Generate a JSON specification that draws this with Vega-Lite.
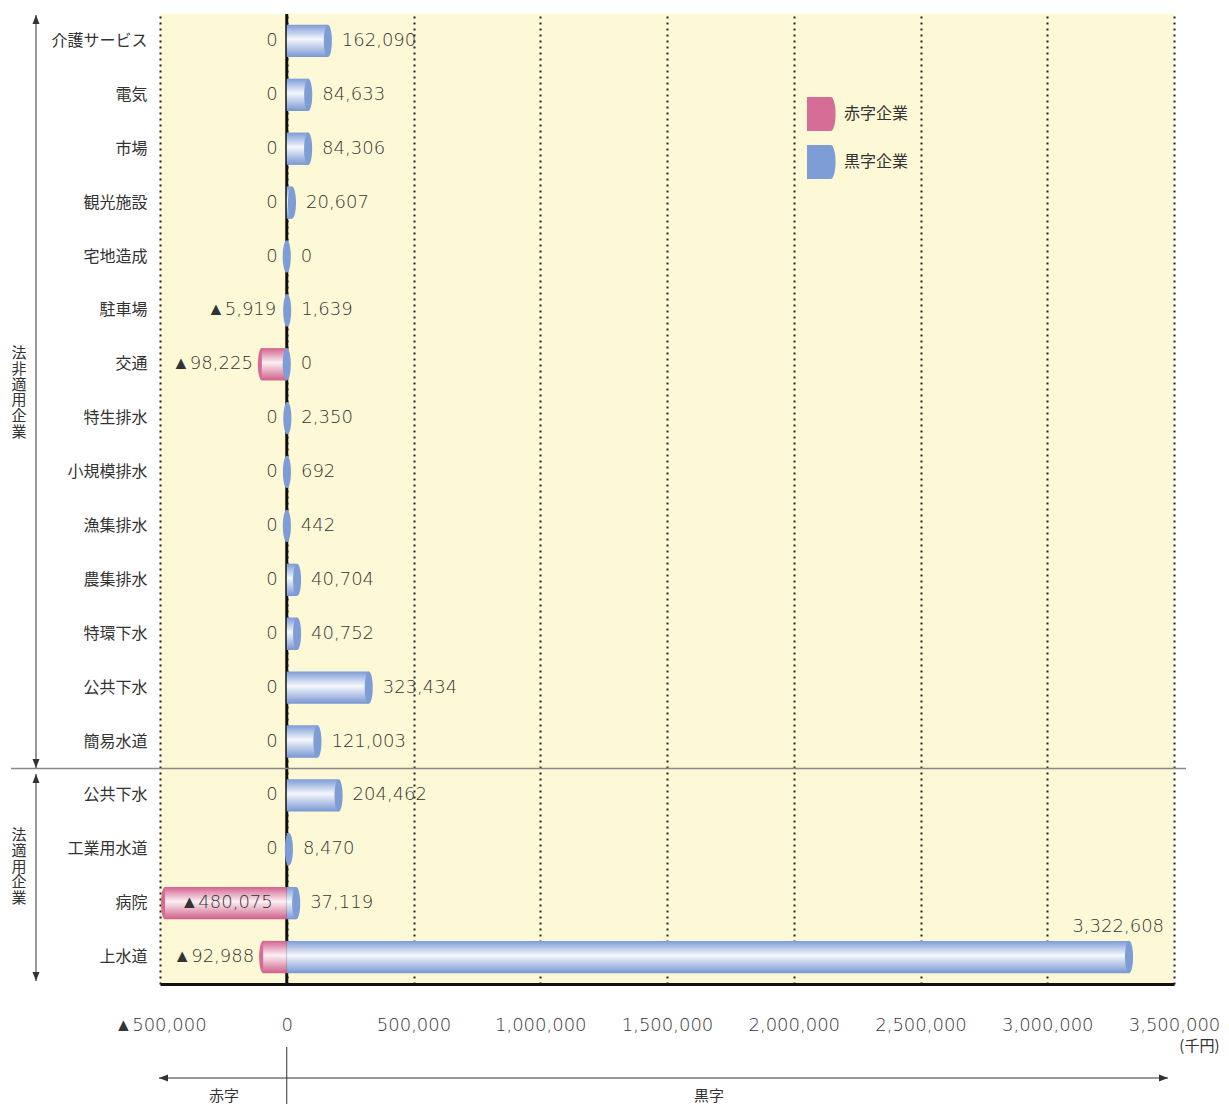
{
  "$schema": "https://vega.github.io/schema/vega-lite/v6.json",
  "padding": {"left": 10, "top": 12, "right": 5, "bottom": 0},
  "background": "white",
  "bounds": "flush",
  "spacing": 63,
  "datasets": {
    "main": [
      {"key": "非-介護サービス", "kind": "赤字企業", "value": 0},
      {"key": "非-介護サービス", "kind": "黒字企業", "value": 162090},
      {"key": "非-電気", "kind": "赤字企業", "value": 0},
      {"key": "非-電気", "kind": "黒字企業", "value": 84633},
      {"key": "非-市場", "kind": "赤字企業", "value": 0},
      {"key": "非-市場", "kind": "黒字企業", "value": 84306},
      {"key": "非-観光施設", "kind": "赤字企業", "value": 0},
      {"key": "非-観光施設", "kind": "黒字企業", "value": 20607},
      {"key": "非-宅地造成", "kind": "赤字企業", "value": 0},
      {"key": "非-宅地造成", "kind": "黒字企業", "value": 0},
      {"key": "非-駐車場", "kind": "赤字企業", "value": -5919},
      {"key": "非-駐車場", "kind": "黒字企業", "value": 1639},
      {"key": "非-交通", "kind": "赤字企業", "value": -98225},
      {"key": "非-交通", "kind": "黒字企業", "value": 0},
      {"key": "非-特生排水", "kind": "赤字企業", "value": 0},
      {"key": "非-特生排水", "kind": "黒字企業", "value": 2350},
      {"key": "非-小規模排水", "kind": "赤字企業", "value": 0},
      {"key": "非-小規模排水", "kind": "黒字企業", "value": 692},
      {"key": "非-漁集排水", "kind": "赤字企業", "value": 0},
      {"key": "非-漁集排水", "kind": "黒字企業", "value": 442},
      {"key": "非-農集排水", "kind": "赤字企業", "value": 0},
      {"key": "非-農集排水", "kind": "黒字企業", "value": 40704},
      {"key": "非-特環下水", "kind": "赤字企業", "value": 0},
      {"key": "非-特環下水", "kind": "黒字企業", "value": 40752},
      {"key": "非-公共下水", "kind": "赤字企業", "value": 0},
      {"key": "非-公共下水", "kind": "黒字企業", "value": 323434},
      {"key": "非-簡易水道", "kind": "赤字企業", "value": 0},
      {"key": "非-簡易水道", "kind": "黒字企業", "value": 121003},
      {"key": "適-公共下水", "kind": "赤字企業", "value": 0},
      {"key": "適-公共下水", "kind": "黒字企業", "value": 204462},
      {"key": "適-工業用水道", "kind": "赤字企業", "value": 0},
      {"key": "適-工業用水道", "kind": "黒字企業", "value": 8470},
      {"key": "適-病院", "kind": "赤字企業", "value": -480075},
      {"key": "適-病院", "kind": "黒字企業", "value": 37119},
      {"key": "適-上水道", "kind": "赤字企業", "value": -92988},
      {"key": "適-上水道", "kind": "黒字企業", "value": 3322608}
    ]
  },
  "vconcat": [
    {
      "width": 1014,
      "height": 970,
      "view": {"fill": "#fdf9d6", "stroke": null},
      "data": {"name": "main"},
      "transform": [
        {"calculate": "datum.value < 0 ? '▲' + format(-datum.value, ',') : format(datum.value, ',')", "as": "txt"}
      ],
      "layer": [
        {
          "data": {"values": [{}]},
          "mark": {"type": "rule", "stroke": "#111", "strokeWidth": 3},
          "encoding": {
            "x": {"datum": 0, "type": "quantitative", "scale": {"domain": [-500000, 3500000], "nice": false, "zero": false},
              "axis": {
                "values": [-500000, 0, 500000, 1000000, 1500000, 2000000, 2500000, 3000000, 3500000],
                "labelExpr": "datum.value < 0 ? '▲' + format(-datum.value, ',') : format(datum.value, ',')",
                "grid": true, "gridDash": [2, 4], "gridColor": "#222", "gridWidth": 2,
                "ticks": false, "domainColor": "#111", "domainWidth": 3,
                "labelPadding": 32, "labelFont": "DejaVu Sans", "labelFontWeight": 200, "labelFontSize": 18, "labelColor": "#333",
                "labelFlush": false, "labelOverlap": false,
                "title": "(千円)", "titleFont": "Noto Sans CJK JP", "titleFontSize": 15, "titleFontWeight": "normal", "titleColor": "#333",
                "titleX": 1059, "titleY": 61, "titleAlign": "right", "titleBaseline": "middle", "titleAnchor": "end"
              }
            }
          }
        },
        {
          "transform": [{"filter": "datum.kind === '赤字企業' && datum.value < -20000"}],
          "mark": {"type": "point", "shape": "M0,-1A0.25,1,0,1,1,0,1A0.25,1,0,1,1,0,-1Z", "size": 1050, "filled": true, "opacity": 1, "strokeWidth": 0},
          "encoding": {
            "x": {"field": "value", "type": "quantitative", "scale": {"domain": [-500000, 3500000], "nice": false, "zero": false}},
            "y": {"field": "key", "type": "nominal", "scale": {"domain": ["非-介護サービス","非-電気","非-市場","非-観光施設","非-宅地造成","非-駐車場","非-交通","非-特生排水","非-小規模排水","非-漁集排水","非-農集排水","非-特環下水","非-公共下水","非-簡易水道","適-公共下水","適-工業用水道","適-病院","適-上水道"], "paddingInner": 0, "paddingOuter": 0},
              "axis": {"labelExpr": "split(datum.label, '-')[1]", "ticks": false, "domain": false, "grid": false, "labelPadding": 13, "labelFont": "Noto Sans CJK JP", "labelFontSize": 16, "labelColor": "#333", "title": null}},
            "color": {"field": "kind", "type": "nominal", "scale": {"domain": ["赤字企業", "黒字企業"], "range": ["#d56d96", "#7e9dd7"]},
              "legend": {
                "title": null, "orient": "none", "legendX": 643.6, "legendY": 83, "padding": 0,
                "symbolType": "M-0.8,-1H0.6A0.28,1,0,0,1,0.6,1H-0.8Z", "symbolSize": 1156, "symbolStrokeWidth": 0, "symbolOpacity": 1,
                "labelFont": "Noto Sans CJK JP", "labelFontSize": 16, "labelColor": "#333", "labelOffset": 6.4, "rowPadding": 14
              }
            }
          }
        },
        {
          "transform": [{"filter": "datum.kind === '赤字企業'"}],
          "mark": {"type": "bar", "height": {"band": 0.6},
            "color": {"gradient": "linear", "x1": 0, "y1": 0, "x2": 0, "y2": 1, "stops": [{"offset": 0, "color": "#d3628c"}, {"offset": 0.45, "color": "#fbf0f4"}, {"offset": 1, "color": "#d05e88"}]}},
          "encoding": {
            "x": {"field": "value", "type": "quantitative", "scale": {"domain": [-500000, 3500000], "nice": false, "zero": false}},
            "x2": {"datum": 0},
            "y": {"field": "key", "type": "nominal", "scale": {"domain": ["非-介護サービス","非-電気","非-市場","非-観光施設","非-宅地造成","非-駐車場","非-交通","非-特生排水","非-小規模排水","非-漁集排水","非-農集排水","非-特環下水","非-公共下水","非-簡易水道","適-公共下水","適-工業用水道","適-病院","適-上水道"], "paddingInner": 0, "paddingOuter": 0}}
          }
        },
        {
          "transform": [{"filter": "datum.kind === '黒字企業'"}],
          "mark": {"type": "bar", "height": {"band": 0.6},
            "color": {"gradient": "linear", "x1": 0, "y1": 0, "x2": 0, "y2": 1, "stops": [{"offset": 0, "color": "#7d9bd6"}, {"offset": 0.45, "color": "#f5f7fd"}, {"offset": 1, "color": "#7896d2"}]}},
          "encoding": {
            "x": {"field": "value", "type": "quantitative", "scale": {"domain": [-500000, 3500000], "nice": false, "zero": false}},
            "x2": {"datum": 0},
            "y": {"field": "key", "type": "nominal", "scale": {"domain": ["非-介護サービス","非-電気","非-市場","非-観光施設","非-宅地造成","非-駐車場","非-交通","非-特生排水","非-小規模排水","非-漁集排水","非-農集排水","非-特環下水","非-公共下水","非-簡易水道","適-公共下水","適-工業用水道","適-病院","適-上水道"], "paddingInner": 0, "paddingOuter": 0}}
          }
        },
        {
          "transform": [{"filter": "datum.kind === '黒字企業'"}],
          "mark": {"type": "point", "shape": "M0,-1A0.25,1,0,1,1,0,1A0.25,1,0,1,1,0,-1Z", "size": 1050, "filled": true, "opacity": 1, "strokeWidth": 0},
          "encoding": {
            "x": {"field": "value", "type": "quantitative", "scale": {"domain": [-500000, 3500000], "nice": false, "zero": false}},
            "y": {"field": "key", "type": "nominal", "scale": {"domain": ["非-介護サービス","非-電気","非-市場","非-観光施設","非-宅地造成","非-駐車場","非-交通","非-特生排水","非-小規模排水","非-漁集排水","非-農集排水","非-特環下水","非-公共下水","非-簡易水道","適-公共下水","適-工業用水道","適-病院","適-上水道"], "paddingInner": 0, "paddingOuter": 0}},
            "color": {"field": "kind", "type": "nominal", "scale": {"domain": ["赤字企業", "黒字企業"], "range": ["#d56d96", "#7e9dd7"]}}
          }
        },
        {
          "transform": [{"filter": "datum.kind === '赤字企業' && datum.value > -300000"}],
          "mark": {"type": "text", "align": "right", "baseline": "middle", "dx": -9, "font": "DejaVu Sans", "fontWeight": 200, "fontSize": 18, "color": "#333"},
          "encoding": {
            "x": {"field": "value", "type": "quantitative", "scale": {"domain": [-500000, 3500000], "nice": false, "zero": false}},
            "y": {"field": "key", "type": "nominal", "scale": {"domain": ["非-介護サービス","非-電気","非-市場","非-観光施設","非-宅地造成","非-駐車場","非-交通","非-特生排水","非-小規模排水","非-漁集排水","非-農集排水","非-特環下水","非-公共下水","非-簡易水道","適-公共下水","適-工業用水道","適-病院","適-上水道"], "paddingInner": 0, "paddingOuter": 0}},
            "text": {"field": "txt"}
          }
        },
        {
          "transform": [{"filter": "datum.kind === '赤字企業' && datum.value <= -300000"}],
          "mark": {"type": "text", "align": "right", "baseline": "middle", "dx": -14, "font": "DejaVu Sans", "fontWeight": 200, "fontSize": 18, "color": "#333"},
          "encoding": {
            "x": {"datum": 0, "type": "quantitative", "scale": {"domain": [-500000, 3500000], "nice": false, "zero": false}},
            "y": {"field": "key", "type": "nominal", "scale": {"domain": ["非-介護サービス","非-電気","非-市場","非-観光施設","非-宅地造成","非-駐車場","非-交通","非-特生排水","非-小規模排水","非-漁集排水","非-農集排水","非-特環下水","非-公共下水","非-簡易水道","適-公共下水","適-工業用水道","適-病院","適-上水道"], "paddingInner": 0, "paddingOuter": 0}},
            "text": {"field": "txt"}
          }
        },
        {
          "transform": [{"filter": "datum.kind === '黒字企業' && datum.value < 3000000"}],
          "mark": {"type": "text", "align": "left", "baseline": "middle", "dx": 14, "font": "DejaVu Sans", "fontWeight": 200, "fontSize": 18, "color": "#333"},
          "encoding": {
            "x": {"field": "value", "type": "quantitative", "scale": {"domain": [-500000, 3500000], "nice": false, "zero": false}},
            "y": {"field": "key", "type": "nominal", "scale": {"domain": ["非-介護サービス","非-電気","非-市場","非-観光施設","非-宅地造成","非-駐車場","非-交通","非-特生排水","非-小規模排水","非-漁集排水","非-農集排水","非-特環下水","非-公共下水","非-簡易水道","適-公共下水","適-工業用水道","適-病院","適-上水道"], "paddingInner": 0, "paddingOuter": 0}},
            "text": {"field": "txt"}
          }
        },
        {
          "transform": [{"filter": "datum.kind === '黒字企業' && datum.value >= 3000000"}],
          "mark": {"type": "text", "align": "right", "baseline": "middle", "dx": 35, "dy": -30, "font": "DejaVu Sans", "fontWeight": 200, "fontSize": 18, "color": "#333"},
          "encoding": {
            "x": {"field": "value", "type": "quantitative", "scale": {"domain": [-500000, 3500000], "nice": false, "zero": false}},
            "y": {"field": "key", "type": "nominal", "scale": {"domain": ["非-介護サービス","非-電気","非-市場","非-観光施設","非-宅地造成","非-駐車場","非-交通","非-特生排水","非-小規模排水","非-漁集排水","非-農集排水","非-特環下水","非-公共下水","非-簡易水道","適-公共下水","適-工業用水道","適-病院","適-上水道"], "paddingInner": 0, "paddingOuter": 0}},
            "text": {"field": "txt"}
          }
        },
        {
          "data": {"values": [{}]},
          "mark": {"type": "rule", "stroke": "#888", "strokeWidth": 1.5, "yOffset": -26.9},
          "encoding": {
            "x": {"datum": -1087771, "type": "quantitative", "scale": {"domain": [-500000, 3500000], "nice": false, "zero": false}},
            "x2": {"datum": 3547337},
            "y": {"datum": "適-公共下水", "type": "nominal", "scale": {"domain": ["非-介護サービス","非-電気","非-市場","非-観光施設","非-宅地造成","非-駐車場","非-交通","非-特生排水","非-小規模排水","非-漁集排水","非-農集排水","非-特環下水","非-公共下水","非-簡易水道","適-公共下水","適-工業用水道","適-病院","適-上水道"], "paddingInner": 0, "paddingOuter": 0}}
          }
        },
        {
          "data": {"values": [{}]},
          "mark": {"type": "rule", "stroke": "#333", "strokeWidth": 1, "yOffset": -26, "y2Offset": 26.5},
          "encoding": {
            "x": {"datum": -989152, "type": "quantitative", "scale": {"domain": [-500000, 3500000], "nice": false, "zero": false}},
            "y": {"datum": "非-介護サービス", "type": "nominal", "scale": {"domain": ["非-介護サービス","非-電気","非-市場","非-観光施設","非-宅地造成","非-駐車場","非-交通","非-特生排水","非-小規模排水","非-漁集排水","非-農集排水","非-特環下水","非-公共下水","非-簡易水道","適-公共下水","適-工業用水道","適-病院","適-上水道"], "paddingInner": 0, "paddingOuter": 0}},
            "y2": {"datum": "非-簡易水道"}
          }
        },
        {
          "data": {"values": [{}]},
          "mark": {"type": "rule", "stroke": "#333", "strokeWidth": 1, "yOffset": -21.5, "y2Offset": 24},
          "encoding": {
            "x": {"datum": -989152, "type": "quantitative", "scale": {"domain": [-500000, 3500000], "nice": false, "zero": false}},
            "y": {"datum": "適-公共下水", "type": "nominal", "scale": {"domain": ["非-介護サービス","非-電気","非-市場","非-観光施設","非-宅地造成","非-駐車場","非-交通","非-特生排水","非-小規模排水","非-漁集排水","非-農集排水","非-特環下水","非-公共下水","非-簡易水道","適-公共下水","適-工業用水道","適-病院","適-上水道"], "paddingInner": 0, "paddingOuter": 0}},
            "y2": {"datum": "適-上水道"}
          }
        },
        {
          "data": {"values": [{}]},
          "mark": {"type": "point", "shape": "M0,0L-0.7,1.8L0.7,1.8Z", "size": 100, "filled": true, "color": "#333", "opacity": 1, "yOffset": -26},
          "encoding": {
            "x": {"datum": -989152, "type": "quantitative", "scale": {"domain": [-500000, 3500000], "nice": false, "zero": false}},
            "y": {"datum": "非-介護サービス", "type": "nominal", "scale": {"domain": ["非-介護サービス","非-電気","非-市場","非-観光施設","非-宅地造成","非-駐車場","非-交通","非-特生排水","非-小規模排水","非-漁集排水","非-農集排水","非-特環下水","非-公共下水","非-簡易水道","適-公共下水","適-工業用水道","適-病院","適-上水道"], "paddingInner": 0, "paddingOuter": 0}}
          }
        },
        {
          "data": {"values": [{}]},
          "mark": {"type": "point", "shape": "M0,0L-0.7,-1.8L0.7,-1.8Z", "size": 100, "filled": true, "color": "#333", "opacity": 1, "yOffset": 26.5},
          "encoding": {
            "x": {"datum": -989152, "type": "quantitative", "scale": {"domain": [-500000, 3500000], "nice": false, "zero": false}},
            "y": {"datum": "非-簡易水道", "type": "nominal", "scale": {"domain": ["非-介護サービス","非-電気","非-市場","非-観光施設","非-宅地造成","非-駐車場","非-交通","非-特生排水","非-小規模排水","非-漁集排水","非-農集排水","非-特環下水","非-公共下水","非-簡易水道","適-公共下水","適-工業用水道","適-病院","適-上水道"], "paddingInner": 0, "paddingOuter": 0}}
          }
        },
        {
          "data": {"values": [{}]},
          "mark": {"type": "point", "shape": "M0,0L-0.7,1.8L0.7,1.8Z", "size": 100, "filled": true, "color": "#333", "opacity": 1, "yOffset": -21.5},
          "encoding": {
            "x": {"datum": -989152, "type": "quantitative", "scale": {"domain": [-500000, 3500000], "nice": false, "zero": false}},
            "y": {"datum": "適-公共下水", "type": "nominal", "scale": {"domain": ["非-介護サービス","非-電気","非-市場","非-観光施設","非-宅地造成","非-駐車場","非-交通","非-特生排水","非-小規模排水","非-漁集排水","非-農集排水","非-特環下水","非-公共下水","非-簡易水道","適-公共下水","適-工業用水道","適-病院","適-上水道"], "paddingInner": 0, "paddingOuter": 0}}
          }
        },
        {
          "data": {"values": [{}]},
          "mark": {"type": "point", "shape": "M0,0L-0.7,-1.8L0.7,-1.8Z", "size": 100, "filled": true, "color": "#333", "opacity": 1, "yOffset": 24},
          "encoding": {
            "x": {"datum": -989152, "type": "quantitative", "scale": {"domain": [-500000, 3500000], "nice": false, "zero": false}},
            "y": {"datum": "適-上水道", "type": "nominal", "scale": {"domain": ["非-介護サービス","非-電気","非-市場","非-観光施設","非-宅地造成","非-駐車場","非-交通","非-特生排水","非-小規模排水","非-漁集排水","非-農集排水","非-特環下水","非-公共下水","非-簡易水道","適-公共下水","適-工業用水道","適-病院","適-上水道"], "paddingInner": 0, "paddingOuter": 0}}
          }
        },
        {
          "data": {"values": [{}]},
          "mark": {"type": "text", "align": "center", "baseline": "middle", "dy": -65, "font": "Noto Sans CJK JP", "fontSize": 15, "lineHeight": 15.7, "color": "#333"},
          "encoding": {
            "x": {"datum": -1056213, "type": "quantitative", "scale": {"domain": [-500000, 3500000], "nice": false, "zero": false}},
            "y": {"datum": "非-特生排水", "type": "nominal", "scale": {"domain": ["非-介護サービス","非-電気","非-市場","非-観光施設","非-宅地造成","非-駐車場","非-交通","非-特生排水","非-小規模排水","非-漁集排水","非-農集排水","非-特環下水","非-公共下水","非-簡易水道","適-公共下水","適-工業用水道","適-病院","適-上水道"], "paddingInner": 0, "paddingOuter": 0}},
            "text": {"value": ["法", "非", "適", "用", "企", "業"]}
          }
        },
        {
          "data": {"values": [{}]},
          "mark": {"type": "text", "align": "center", "baseline": "middle", "dy": -14, "font": "Noto Sans CJK JP", "fontSize": 15, "lineHeight": 15.7, "color": "#333"},
          "encoding": {
            "x": {"datum": -1056213, "type": "quantitative", "scale": {"domain": [-500000, 3500000], "nice": false, "zero": false}},
            "y": {"datum": "適-工業用水道", "type": "nominal", "scale": {"domain": ["非-介護サービス","非-電気","非-市場","非-観光施設","非-宅地造成","非-駐車場","非-交通","非-特生排水","非-小規模排水","非-漁集排水","非-農集排水","非-特環下水","非-公共下水","非-簡易水道","適-公共下水","適-工業用水道","適-病院","適-上水道"], "paddingInner": 0, "paddingOuter": 0}},
            "text": {"value": ["法", "適", "用", "企", "業"]}
          }
        }
      ]
    },
    {
      "width": 1014,
      "height": 57,
      "view": {"stroke": null},
      "layer": [
        {
          "data": {"values": [{}]},
          "mark": {"type": "rule", "stroke": "#333", "strokeWidth": 1},
          "encoding": {
            "x": {"datum": 0, "type": "quantitative", "scale": {"domain": [-500000, 3500000], "nice": false, "zero": false}, "axis": null},
            "y": {"datum": 0, "type": "quantitative", "scale": {"domain": [0, 1], "nice": false}, "axis": null},
            "y2": {"datum": 1}
          }
        },
        {
          "data": {"values": [{}]},
          "mark": {"type": "rule", "stroke": "#333", "strokeWidth": 1},
          "encoding": {
            "x": {"datum": -503945, "type": "quantitative", "scale": {"domain": [-500000, 3500000], "nice": false, "zero": false}, "axis": null},
            "x2": {"datum": 3476331},
            "y": {"datum": 0.456, "type": "quantitative", "scale": {"domain": [0, 1], "nice": false}, "axis": null}
          }
        },
        {
          "data": {"values": [{}]},
          "mark": {"type": "point", "shape": "M0,0L1.8,-0.7L1.8,0.7Z", "size": 100, "filled": true, "color": "#333", "opacity": 1},
          "encoding": {
            "x": {"datum": -503945, "type": "quantitative", "scale": {"domain": [-500000, 3500000], "nice": false, "zero": false}, "axis": null},
            "y": {"datum": 0.456, "type": "quantitative", "scale": {"domain": [0, 1], "nice": false}, "axis": null}
          }
        },
        {
          "data": {"values": [{}]},
          "mark": {"type": "point", "shape": "M0,0L-1.8,-0.7L-1.8,0.7Z", "size": 100, "filled": true, "color": "#333", "opacity": 1},
          "encoding": {
            "x": {"datum": 3476331, "type": "quantitative", "scale": {"domain": [-500000, 3500000], "nice": false, "zero": false}, "axis": null},
            "y": {"datum": 0.456, "type": "quantitative", "scale": {"domain": [0, 1], "nice": false}, "axis": null}
          }
        },
        {
          "data": {"values": [{}]},
          "mark": {"type": "text", "align": "center", "baseline": "middle", "font": "Noto Sans CJK JP", "fontSize": 15, "color": "#333"},
          "encoding": {
            "x": {"datum": -247535, "type": "quantitative", "scale": {"domain": [-500000, 3500000], "nice": false, "zero": false}, "axis": null},
            "y": {"datum": 0.14, "type": "quantitative", "scale": {"domain": [0, 1], "nice": false}, "axis": null},
            "text": {"value": "赤字"}
          }
        },
        {
          "data": {"values": [{}]},
          "mark": {"type": "text", "align": "center", "baseline": "middle", "font": "Noto Sans CJK JP", "fontSize": 15, "color": "#333"},
          "encoding": {
            "x": {"datum": 1665680, "type": "quantitative", "scale": {"domain": [-500000, 3500000], "nice": false, "zero": false}, "axis": null},
            "y": {"datum": 0.14, "type": "quantitative", "scale": {"domain": [0, 1], "nice": false}, "axis": null},
            "text": {"value": "黒字"}
          }
        }
      ]
    }
  ],
  "config": {
    "font": "Noto Sans CJK JP",
    "view": {"stroke": null},
    "text": {"color": "#333"}
  }
}
